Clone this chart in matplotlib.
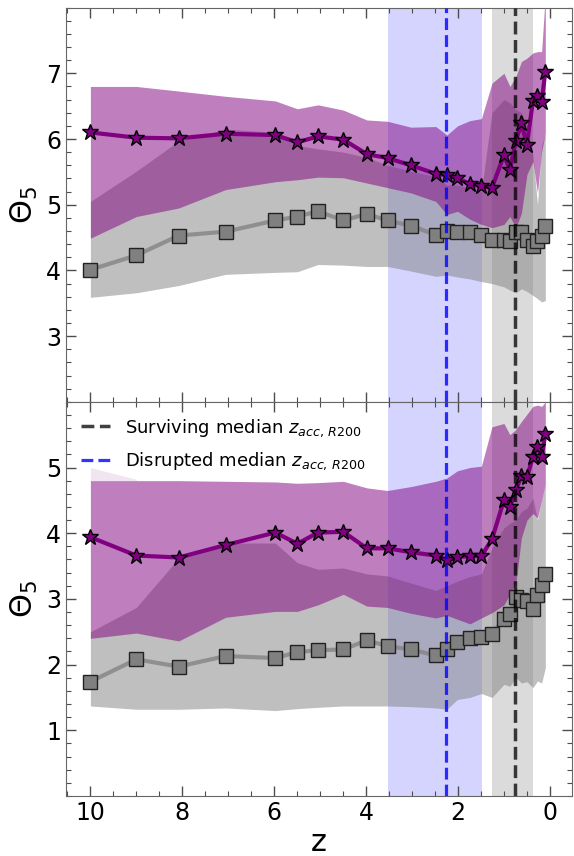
import numpy as np
import matplotlib
matplotlib.use('Agg')
import matplotlib.pyplot as plt
from matplotlib.ticker import MultipleLocator, AutoMinorLocator

# snapshot redshifts
z = [9.99, 8.99, 8.07, 7.05, 5.97, 5.49, 5.04, 4.49, 3.98, 3.53, 3.02, 2.48, 2.24,
     2.01, 1.74, 1.49, 1.26, 1.00, 0.87, 0.74, 0.62, 0.50, 0.37, 0.27, 0.18, 0.10]

# upper panel
dis_top = [6.10, 6.02, 6.01, 6.08, 6.06, 5.95, 6.04, 5.99, 5.77, 5.71, 5.60, 5.47, 5.45,
           5.41, 5.31, 5.28, 5.26, 5.75, 5.53, 5.97, 6.24, 5.91, 6.58, 6.65, 6.57, 7.02]
dis_top_hi = [6.80, 6.80, 6.73, 6.65, 6.58, 6.46, 6.52, 6.44, 6.29, 6.27, 6.18, 6.19, 6.06,
              6.20, 6.28, 6.31, 6.85, 7.00, 6.80, 6.95, 7.18, 7.23, 7.31, 7.33, 7.33, 8.20]
dis_top_lo = [4.49, 4.82, 4.95, 5.23, 5.35, 5.38, 5.42, 5.41, 5.33, 5.26, 5.18, 5.05, 4.85,
              4.90, 4.78, 4.70, 4.65, 4.70, 4.82, 4.65, 4.87, 5.46, 5.66, 5.18, 5.81, 6.09]
sur_top = [4.01, 4.23, 4.53, 4.59, 4.76, 4.82, 4.90, 4.76, 4.86, 4.76, 4.68, 4.54, 4.60,
           4.59, 4.59, 4.54, 4.47, 4.46, 4.45, 4.59, 4.59, 4.47, 4.37, 4.45, 4.52, 4.67]
sur_top_hi = [5.05, 5.51, 5.97, 6.15, 6.10, 5.90, 5.85, 5.80, 5.72, 5.60, 5.51, 5.43, 5.30,
              5.30, 5.25, 5.20, 6.40, 6.60, 6.55, 6.45, 6.40, 6.20, 5.76, 5.00, 5.90, 6.08]
sur_top_lo = [3.59, 3.66, 3.77, 3.94, 3.97, 3.98, 4.09, 4.08, 4.06, 4.06, 3.99, 3.91, 3.93,
              3.90, 3.87, 3.83, 3.80, 3.75, 3.70, 3.66, 3.72, 3.68, 3.62, 3.57, 3.52, 3.54]

# lower panel
dis_bot = [3.94, 3.66, 3.63, 3.82, 4.01, 3.84, 4.01, 4.02, 3.77, 3.77, 3.71, 3.66, 3.59,
           3.64, 3.65, 3.65, 3.91, 4.50, 4.40, 4.65, 4.87, 4.85, 5.16, 5.31, 5.16, 5.51]
dis_bot_hi = [4.80, 4.80, 4.80, 4.79, 4.78, 4.76, 4.77, 4.79, 4.69, 4.65, 4.71, 4.79, 4.84,
              4.95, 5.00, 5.02, 5.62, 5.67, 5.50, 5.58, 5.70, 5.81, 5.93, 5.95, 5.93, 6.00]
dis_bot_lo = [2.40, 2.48, 2.36, 2.72, 2.81, 2.81, 2.91, 3.07, 2.89, 2.87, 2.78, 2.71, 2.75,
              2.69, 2.62, 2.71, 2.79, 2.91, 3.07, 3.24, 3.93, 4.20, 4.30, 4.23, 4.50, 4.74]
sur_bot = [1.74, 2.08, 1.97, 2.13, 2.10, 2.19, 2.22, 2.23, 2.37, 2.28, 2.23, 2.14, 2.23,
           2.35, 2.41, 2.42, 2.46, 2.70, 2.77, 3.03, 2.99, 2.97, 2.85, 3.06, 3.21, 3.38]
sur_bot_hi = [2.50, 2.87, 3.62, 3.85, 3.85, 3.55, 3.45, 3.47, 3.38, 3.35, 3.24, 3.13, 3.20,
              3.27, 3.34, 3.38, 3.77, 4.08, 4.15, 4.20, 4.33, 4.38, 4.53, 4.20, 4.50, 4.74]
sur_bot_lo = [1.37, 1.32, 1.32, 1.34, 1.30, 1.33, 1.35, 1.37, 1.37, 1.37, 1.36, 1.34, 1.32,
              1.47, 1.50, 1.56, 1.50, 1.70, 1.67, 1.80, 1.72, 1.74, 1.65, 1.75, 1.72, 1.95]
# faint extra band at high z in the lower panel
faint_z = [9.99, 8.99]
faint_lo = [4.80, 4.80]
faint_hi = [5.00, 4.82]

# median accretion redshifts and their spreads
z_sur, z_sur_span = 0.75, (1.25, 0.36)
z_dis, z_dis_span = 2.25, (3.52, 1.47)

fig = plt.figure(figsize=(5.74, 8.56), dpi=100)
ax1 = fig.add_axes([0.115, 0.5306, 0.8815, 0.4605])
ax2 = fig.add_axes([0.115, 0.0701, 0.8815, 0.4605], sharex=ax1)

panels = [
    (ax1, dis_top, dis_top_lo, dis_top_hi, sur_top, sur_top_lo, sur_top_hi),
    (ax2, dis_bot, dis_bot_lo, dis_bot_hi, sur_bot, sur_bot_lo, sur_bot_hi),
]

for ax, d, dlo, dhi, s, slo, shi in panels:
    ax.axvspan(z_dis_span[0], z_dis_span[1], color='blue', alpha=0.17, lw=0, zorder=0)
    ax.axvspan(z_sur_span[0], z_sur_span[1], color='k', alpha=0.14, lw=0, zorder=0)
    ax.fill_between(z, slo, shi, color='gray', alpha=0.5, lw=0, zorder=1)
    ax.fill_between(z, dlo, dhi, color='purple', alpha=0.5, lw=0, zorder=1)
    ax.plot(z, s, '-', color='gray', lw=3, alpha=0.75, zorder=3)
    ax.plot(z, s, 's', ls='none', ms=10, mfc='gray', mec='#222222', mew=1, zorder=4)
    ax.plot(z, d, '-', color='purple', lw=3, zorder=3)
    ax.plot(z, d, '*', ls='none', ms=12, mfc='purple', mec='black', mew=1, zorder=4)
    ax.axvline(z_sur, color='k', ls='--', lw=2.5, alpha=0.75, zorder=5,
               label=r'Surviving median $z_{acc,\,R200}$')
    ax.axvline(z_dis, color='blue', ls='--', lw=2.3, alpha=0.8, zorder=5,
               label=r'Disrupted median $z_{acc,\,R200}$')

ax2.fill_between(faint_z, faint_lo, faint_hi, color='purple', alpha=0.1, lw=0, zorder=1)

ax1.set_ylim(2, 8)
ax2.set_ylim(0, 6)
ax1.set_yticks([3, 4, 5, 6, 7])
ax2.set_yticks([1, 2, 3, 4, 5])
ax1.set_xlim(10.52, -0.48)

for ax in (ax1, ax2):
    ax.xaxis.set_major_locator(MultipleLocator(2))
    ax.xaxis.set_minor_locator(MultipleLocator(0.5))
    ax.yaxis.set_minor_locator(AutoMinorLocator(5))
    ax.tick_params(which='both', direction='in', top=True, right=True,
                   labelsize=17, color='0.3')
    ax.tick_params(which='major', length=7, width=1)
    ax.tick_params(which='minor', length=3.5, width=0.8)
    for sp in ax.spines.values():
        sp.set_color('0.4')
    ax.set_ylabel(r'$\Theta_5$', fontsize=22, labelpad=4)

ax1.tick_params(labelbottom=False)
ax2.set_xlabel('z', fontsize=22, labelpad=2)

ax2.legend(loc='upper left', frameon=False, fontsize=13, handlelength=1.6,
           labelspacing=0.65, borderaxespad=0.45, handletextpad=0.8)

fig.savefig('out.png', dpi=100)
